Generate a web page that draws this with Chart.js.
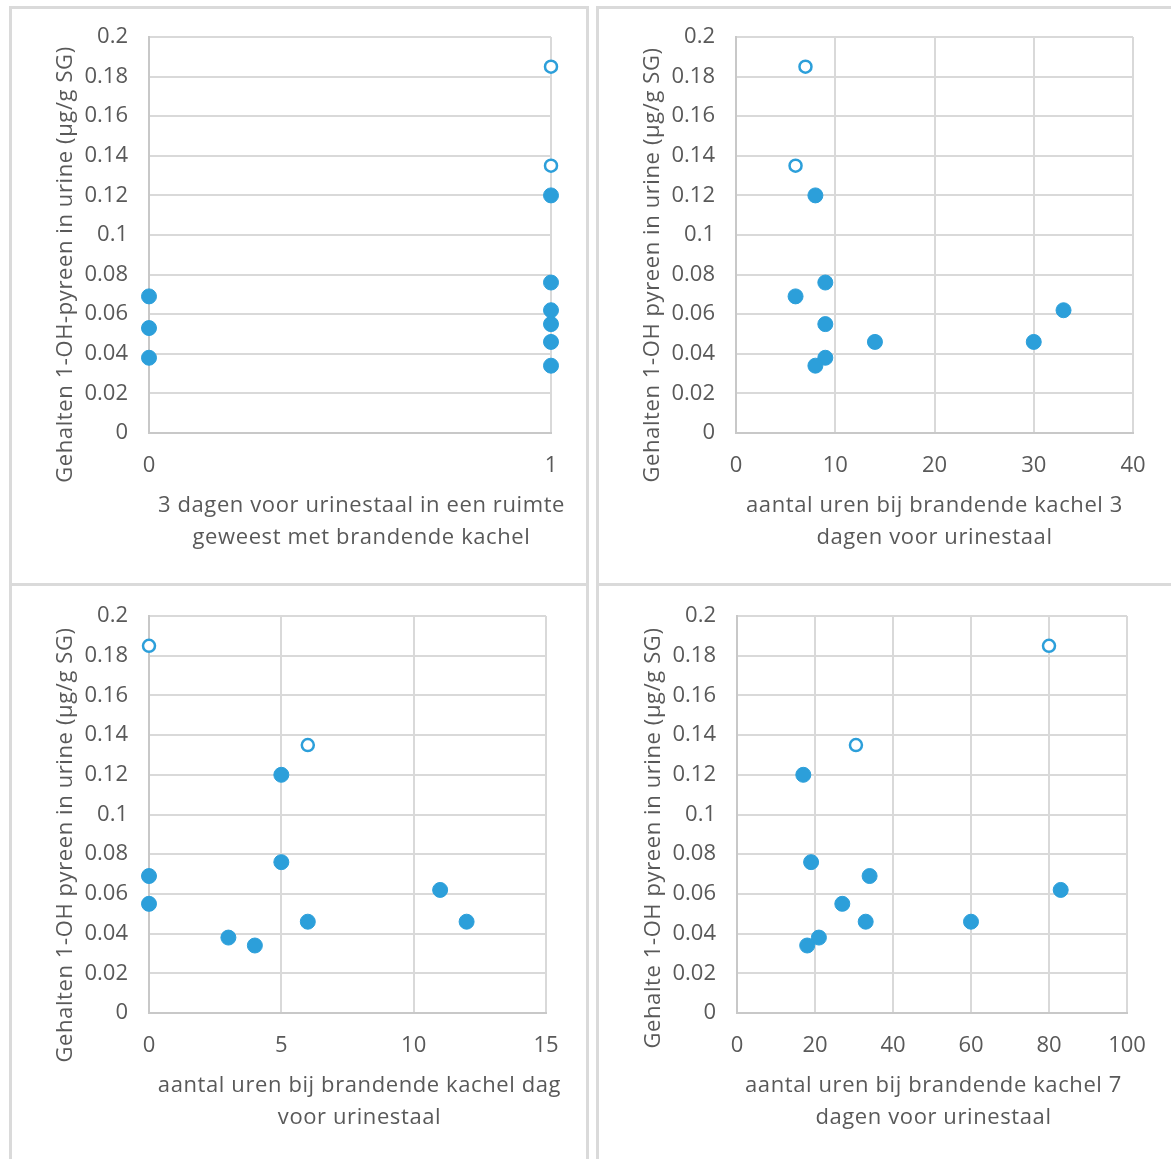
<!DOCTYPE html>
<html>
<head>
<meta charset="utf-8">
<script src="https://cdn.jsdelivr.net/npm/chart.js@4/dist/chart.umd.min.js"></script>
<style>
  html, body { margin: 0; padding: 0; background: #fff; width: 1171px; height: 1159px; overflow: hidden; }
  .box { position: absolute; border: 3px solid #DADADA; box-sizing: border-box; }
  canvas { position: absolute; }
</style>
</head>
<body>
<div class="box" style="left:9px;top:6px;width:580px;height:580px"></div>
<div class="box" style="left:596px;top:6px;width:600px;height:580px"></div>
<div class="box" style="left:9px;top:583px;width:580px;height:600px"></div>
<div class="box" style="left:596px;top:583px;width:600px;height:600px"></div>
<canvas id="c1" width="574" height="574" style="left:12px;top:9px"></canvas>
<canvas id="c2" width="572" height="574" style="left:599px;top:9px"></canvas>
<canvas id="c3" width="574" height="570" style="left:12px;top:589px"></canvas>
<canvas id="c4" width="572" height="570" style="left:599px;top:589px"></canvas>
<script>
// ---------- data ----------
const yTickLabels = ['0','0.02','0.04','0.06','0.08','0.1','0.12','0.14','0.16','0.18','0.2'];

// Panel 1: 3 dagen voor urinestaal in een ruimte met brandende kachel (0/1)
const p1XTicks = ['0','1'];
const p1FilledX = [0, 0, 0, 1, 1, 1, 1, 1, 1];
const p1FilledY = [0.069, 0.053, 0.038, 0.120, 0.076, 0.062, 0.055, 0.046, 0.034];
const p1OpenX = [1, 1];
const p1OpenY = [0.185, 0.135];
const p1XTitle = ['3 dagen voor urinestaal in een ruimte', 'geweest met brandende kachel'];
const p1YTitle = 'Gehalten 1-OH-pyreen in urine (µg/g SG)';

// Panel 2: aantal uren bij brandende kachel 3 dagen voor urinestaal
const p2XTicks = ['0','10','20','30','40'];
const p2FilledX = [8, 6, 9, 9, 14, 9, 8, 30, 33];
const p2FilledY = [0.120, 0.069, 0.076, 0.055, 0.046, 0.038, 0.034, 0.046, 0.062];
const p2OpenX = [7, 6];
const p2OpenY = [0.185, 0.135];
const p2XTitle = ['aantal uren bij brandende kachel 3', 'dagen voor urinestaal'];
const p2YTitle = 'Gehalten 1-OH pyreen in urine (µg/g SG)';

// Panel 3: aantal uren bij brandende kachel dag voor urinestaal
const p3XTicks = ['0','5','10','15'];
const p3FilledX = [5, 5, 0, 0, 3, 4, 6, 11, 12];
const p3FilledY = [0.120, 0.076, 0.069, 0.055, 0.038, 0.034, 0.046, 0.062, 0.046];
const p3OpenX = [0, 6];
const p3OpenY = [0.185, 0.135];
const p3XTitle = ['aantal uren bij brandende kachel dag', 'voor urinestaal'];
const p3YTitle = 'Gehalten 1-OH pyreen in urine (µg/g SG)';

// Panel 4: aantal uren bij brandende kachel 7 dagen voor urinestaal
const p4XTicks = ['0','20','40','60','80','100'];
const p4FilledX = [17, 19, 34, 27, 33, 21, 18, 60, 83];
const p4FilledY = [0.120, 0.076, 0.069, 0.055, 0.046, 0.038, 0.034, 0.046, 0.062];
const p4OpenX = [80, 30.5];
const p4OpenY = [0.185, 0.135];
const p4XTitle = ['aantal uren bij brandende kachel 7', 'dagen voor urinestaal'];
const p4YTitle = 'Gehalte 1-OH pyreen in urine (µg/g SG)';

// ---------- styles ----------
const BLUE = '#2C9FDA';
const TEXT = '#595959';
const GRID = '#D9D9D9';
const AXIS = '#C8C8C8';
const FONT = '"Open Sans", "Noto Sans", sans-serif';

const axisTitlePlugin = {
  id: 'axisTitles',
  afterDraw(chart, args, o) {
    const ctx = chart.ctx, a = chart.chartArea;
    ctx.save();
    ctx.fillStyle = o.color;
    ctx.font = o.size + 'px ' + FONT;
    if ('letterSpacing' in ctx) ctx.letterSpacing = o.letterSpacing + 'px';
    ctx.textAlign = 'center';
    ctx.textBaseline = 'alphabetic';
    const cx = (a.left + a.right) / 2 + o.xShift;
    o.xText.forEach((line, i) => ctx.fillText(line, cx, a.bottom + o.xBaseline + i * o.lineGap));
    ctx.translate(a.left - o.yBaseline, (a.top + a.bottom) / 2 + o.yShift);
    ctx.rotate(-Math.PI / 2);
    ctx.fillText(o.yText, 0, 0);
    ctx.restore();
  }
};

function pts(xs, ys) { return xs.map((x, i) => ({ x: x, y: ys[i] })); }

function makeChart(id, d) {
  new Chart(document.getElementById(id), {
    type: 'scatter',
    data: {
      datasets: [
        { data: pts(d.fx, d.fy), backgroundColor: BLUE, borderColor: BLUE,
          pointRadius: 7.5, pointBorderWidth: 1, pointHoverRadius: 7.5, clip: false },
        { data: pts(d.ox, d.oy), backgroundColor: '#FFFFFF', borderColor: BLUE,
          pointRadius: 6, pointBorderWidth: 2.5, pointHoverRadius: 6, clip: false }
      ]
    },
    options: {
      responsive: false,
      animation: false,
      layout: { autoPadding: false, padding: { left: 0, top: d.padTop, right: d.padRight, bottom: 0 } },
      plugins: {
        legend: { display: false },
        tooltip: { enabled: false },
        axisTitles: {
          color: TEXT, size: 22, letterSpacing: 0.6,
          xText: d.xTitle, yText: d.yTitle,
          xBaseline: 79, lineGap: 32, xShift: d.xShift,
          yBaseline: 77, yShift: d.yShift
        }
      },
      scales: {
        x: {
          type: 'linear', min: d.xMin, max: d.xMax,
          afterFit: s => { s.height = d.xAxisH; s.paddingLeft = 0; s.paddingRight = 0; },
          grid: { color: GRID, lineWidth: 2, drawTicks: false },
          border: { color: AXIS, width: 2 },
          ticks: { stepSize: d.xStep, padding: 20, color: TEXT, maxRotation: 0,
                   font: { family: FONT, size: 22 },
                   callback: (v, i) => d.xTicks[i] }
        },
        y: {
          type: 'linear', min: 0, max: 0.2,
          afterFit: s => { s.width = d.yAxisW; s.paddingTop = 0; s.paddingBottom = 0; },
          grid: { color: GRID, lineWidth: 2, drawTicks: false },
          border: { color: AXIS, width: 2 },
          ticks: { stepSize: 0.02, padding: 21, color: TEXT,
                   font: { family: FONT, size: 22 },
                   callback: (v, i) => yTickLabels[i] }
        }
      }
    },
    plugins: [axisTitlePlugin]
  });
}

makeChart('c1', { fx: p1FilledX, fy: p1FilledY, ox: p1OpenX, oy: p1OpenY,
  xTicks: p1XTicks, xMin: 0, xMax: 1, xStep: 1, xTitle: p1XTitle, yTitle: p1YTitle,
  padTop: 28, padRight: 35, xAxisH: 150, yAxisW: 137, xShift: 11.5, yShift: 29.5 });
makeChart('c2', { fx: p2FilledX, fy: p2FilledY, ox: p2OpenX, oy: p2OpenY,
  xTicks: p2XTicks, xMin: 0, xMax: 40, xStep: 10, xTitle: p2XTitle, yTitle: p2YTitle,
  padTop: 28, padRight: 38, xAxisH: 150, yAxisW: 137, xShift: 0, yShift: 30 });
makeChart('c3', { fx: p3FilledX, fy: p3FilledY, ox: p3OpenX, oy: p3OpenY,
  xTicks: p3XTicks, xMin: 0, xMax: 15, xStep: 5, xTitle: p3XTitle, yTitle: p3YTitle,
  padTop: 27, padRight: 40, xAxisH: 146, yAxisW: 137, xShift: 12, yShift: 30.5 });
makeChart('c4', { fx: p4FilledX, fy: p4FilledY, ox: p4OpenX, oy: p4OpenY,
  xTicks: p4XTicks, xMin: 0, xMax: 100, xStep: 20, xTitle: p4XTitle, yTitle: p4YTitle,
  padTop: 27, padRight: 44, xAxisH: 146, yAxisW: 138, xShift: 1.5, yShift: 23.5 });
</script>
</body>
</html>
